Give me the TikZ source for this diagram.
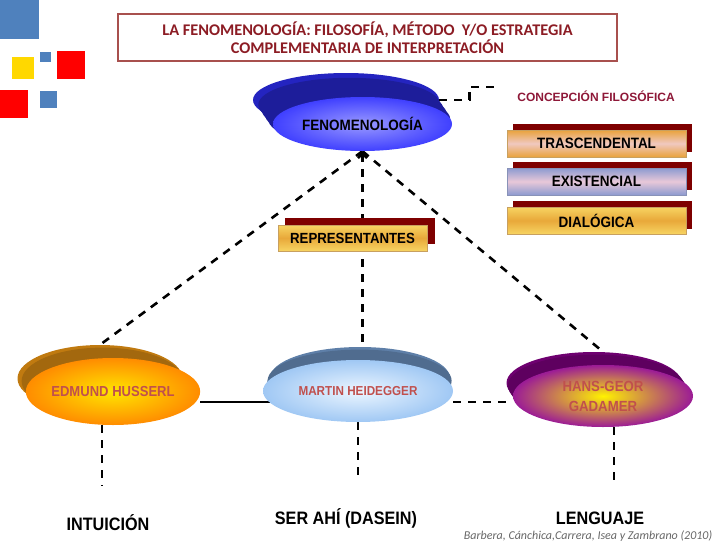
\documentclass[tikz,border=0pt]{standalone}
\usepackage{fontspec}
\setmainfont{Liberation Sans}
\newfontfamily\narrowfont[FakeStretch=0.9]{Liberation Sans}
\newfontfamily\calibfont{Carlito}
\usepackage{tikz}
\usetikzlibrary{positioning,arrows.meta,shapes.geometric,backgrounds,calc}

\definecolor{titlered}{HTML}{8C1C24}
\definecolor{titleframe}{HTML}{A8504E}
\definecolor{shadowred}{HTML}{7E0000}
\definecolor{rusttext}{HTML}{C0504D}
\definecolor{concepred}{HTML}{8E1838}
\definecolor{deco blue}{HTML}{4F81BD}
\definecolor{deco yellow}{HTML}{FFD800}
\definecolor{deco red}{HTML}{FF0000}
\definecolor{barorange}{HTML}{E9A23B}
\definecolor{barpink}{HTML}{F0C8C0}
\definecolor{barblue}{HTML}{8C9AD0}
\definecolor{barlilac}{HTML}{E8C8D8}
\definecolor{baryellow}{HTML}{F7D462}
\definecolor{barmid}{HTML}{E8A83A}
\definecolor{barframe}{HTML}{C8A060}
\definecolor{navyback}{HTML}{2424C0}
\definecolor{amberback}{HTML}{C07A10}
\definecolor{steel}{HTML}{5E7FA8}
\definecolor{skyouter}{HTML}{A0C8F4}
\definecolor{skyinner}{HTML}{ECF6FF}
\definecolor{plumback}{HTML}{6E0070}
\definecolor{plumouter}{HTML}{9B1B96}

\tikzset{
  dashline/.style={black, line width=2.6pt, dash pattern=on 8pt off 7pt},
  diskback/.style={ellipse, inner sep=0pt, fill=#1},
  disk/.style={ellipse, inner sep=0pt, align=center},
  barshadow/.style={fill=shadowred, minimum width=179pt, minimum height=28pt, inner sep=0pt},
  labelbar/.style={draw=#1, line width=0.8pt, minimum width=179pt, minimum height=27pt,
    inner sep=0pt, font=\narrowfont\bfseries\fontsize{15}{17}\selectfont},
  bottomlabel/.style={font=\narrowfont\bfseries\fontsize{18}{20}\selectfont},
}

\begin{document}
\begin{tikzpicture}[x=1pt, y=-1pt]
\useasboundingbox (0,0) rectangle (728,546);
% ---- decoration squares ----
\fill[deco blue] (0,0) rectangle (39,39);
\fill[deco yellow] (12,57) rectangle (34,79);
\fill[deco blue] (40,52) rectangle (51,62);
\fill[deco red] (57,51) rectangle (85,79);
\fill[deco red] (0,90) rectangle (28,118);
\fill[deco blue] (40,91) rectangle (57,108);
% ---- title ----
\node[draw=titleframe, line width=1.5pt, minimum width=499pt, minimum height=47pt,
  align=center, text=titlered, font=\calibfont\bfseries\fontsize{16.3}{18}\selectfont]
  (title) at (367.5,37.5)
  {LA FENOMENOLOGÍA: FILOSOFÍA, MÉTODO \ Y/O ESTRATEGIA\\COMPLEMENTARIA DE INTERPRETACIÓN};
% ---- FENOMENOLOGIA disk ----
\node[diskback=navyback, minimum width=186pt, minimum height=54pt] (fenBack) at (346,100) {};
\foreach \s in {0.2,0.4,0.6,0.8}
  \fill[navyback!80!black] ($(346,100)!\s!(362.5,124)$) ellipse (91 and 27);
\node[disk, inner color=blue!40!white, outer color=blue!75!white, minimum width=179pt, minimum height=54pt,
  font=\narrowfont\bfseries\fontsize{15}{17}\selectfont] (fen) at (362.5,124) {FENOMENOLOGÍA};
% ---- philosophical conception ----
\node[text=concepred, font=\bfseries\fontsize{12}{14}\selectfont] (concep) at (596,96) {CONCEPCIÓN FILOSÓFICA};
\coordinate (concepIn) at (500,87);
\node[barshadow] (trasShadow) at (602.5,137.5) {};
\node[labelbar=barframe, top color=barorange, bottom color=barorange,
  middle color=barpink] (tras) at (596.5,143.5) {TRASCENDENTAL};
\node[barshadow] (exisShadow) at (602.5,175.5) {};
\node[labelbar=barblue!70!gray, top color=barblue, bottom color=barblue,
  middle color=barlilac] (exis) at (596.5,181.5) {EXISTENCIAL};
\node[barshadow] (dialShadow) at (602.5,214.5) {};
\node[labelbar=barframe, top color=baryellow, bottom color=baryellow,
  middle color=barmid] (dial) at (596.5,220.5) {DIALÓGICA};
% ---- representatives ----
\node[barshadow, minimum width=150pt, minimum height=26pt] (repShadow) at (359.5,231) {};
\node[labelbar=barframe, minimum width=149pt, minimum height=26pt, top color=baryellow,
  bottom color=baryellow, middle color=barmid,
  font=\narrowfont\bfseries\fontsize{14.7}{16}\selectfont] (rep) at (352.5,238) {REPRESENTANTES};
% ---- Husserl ----
\node[diskback=amberback, minimum width=165pt, minimum height=67pt] (husBack) at (100,378.5) {};
\foreach \s in {0.2,0.4,0.6,0.8}
  \fill[amberback!85!black] ($(100,378.5)!\s!(113,391.5)$) ellipse (81 and 33.5);
\node[disk, inner color=yellow!80!orange, outer color=orange!90!yellow, minimum width=160pt, minimum height=67pt,
  text=rusttext, font=\narrowfont\bfseries\fontsize{14.5}{16}\selectfont] (hus) at (113,391.5) {EDMUND HUSSERL};
% ---- Heidegger ----
\node[diskback=steel, minimum width=180pt, minimum height=62pt] (heiBack) at (360,378) {};
\foreach \s in {0.2,0.4,0.6,0.8}
  \fill[steel!85!black] ($(360,378)!\s!(358,391)$) ellipse (92 and 31);
\node[disk, inner color=skyinner, outer color=skyouter, minimum width=190pt, minimum height=62pt,
  text=rusttext, font=\narrowfont\bfseries\fontsize{13}{15}\selectfont] (hei) at (358,391) {MARTIN HEIDEGGER};
% ---- Gadamer ----
\node[diskback=plumback, minimum width=175pt, minimum height=62pt] (gadBack) at (594,383) {};
\foreach \s in {0.2,0.4,0.6,0.8}
  \fill[plumback!85!black] ($(594,383)!\s!(603,396)$) ellipse (88 and 31);
\node[disk, inner color=yellow!90!orange, outer color=plumouter, minimum width=180pt, minimum height=62pt,
  text=rusttext, font=\narrowfont\bfseries\fontsize{14.7}{20}\selectfont] (gad) at (603,396) {HANS-GEOR\\GADAMER};
% ---- bottom labels ----
\node[bottomlabel] (intu) at (108,523) {INTUICIÓN};
\node[bottomlabel] (dasein) at (346,518) {SER AHÍ (DASEIN)};
\node[bottomlabel] (leng) at (600,518) {LENGUAJE};
\node[text=gray!80!black, font=\calibfont\itshape\fontsize{12}{14}\selectfont] (cite) at (588,536)
  {Barbera, Cánchica,Carrera, Isea y Zambrano (2010)};
% ---- connectors (behind) ----
\begin{scope}[on background layer]
\draw[dashline] (fenBack.east) -- ++(30,0) |- (concepIn);
\draw[dashline] (fen.south) -- (husBack.north);
\draw[dashline] (fen.south) -- ([xshift=9pt]gadBack.north);
\draw[dashline, {Straight Barb[length=5pt, width=9pt]}-] (fen.south) -- ([yshift=-8pt]fen.south |- heiBack.north);
\draw[black, line width=1.8pt] ([yshift=-10.5pt]hus.east) -- ([yshift=-24pt]heiBack.west);
\draw[dashline] ([yshift=-11pt]hei.east) -- ([yshift=-6pt]gad.west);
\draw[dashline, shorten >=25pt] ([xshift=-11pt]hus.south) -- ([xshift=-11pt]hus.south |- intu.north);
\draw[dashline, shorten >=30pt] (hei.south) -- (hei.south |- dasein.north);
\draw[dashline, shorten >=22pt] ([xshift=11pt]gad.south) -- ([xshift=11pt]gad.south |- leng.north);
\end{scope}
\end{tikzpicture}
\end{document}
